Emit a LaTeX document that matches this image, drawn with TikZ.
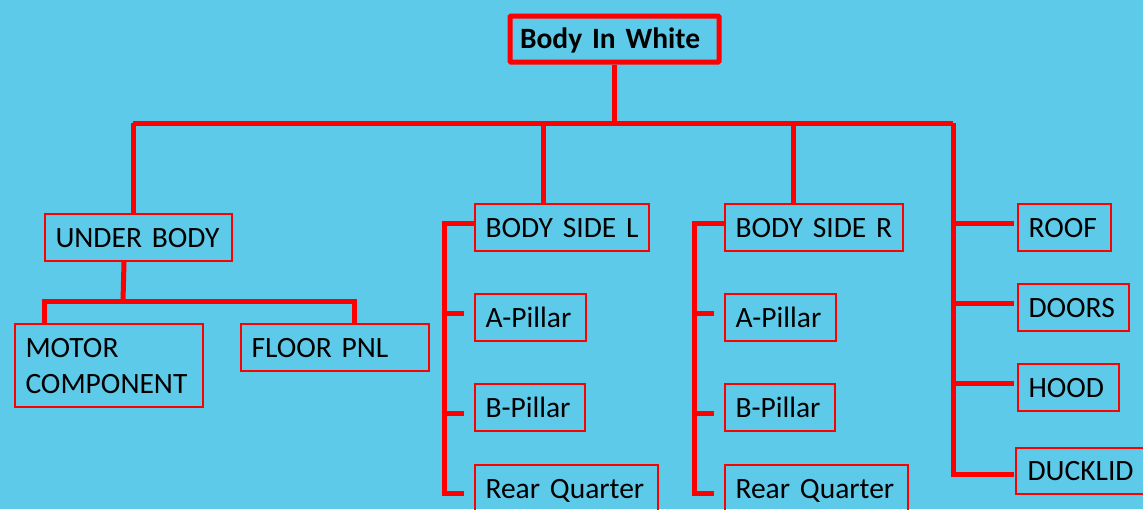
\documentclass[tikz,border=0pt]{standalone}
\usepackage{fontspec}
\setmainfont{Carlito}
\usetikzlibrary{calc}
\definecolor{bgblue}{RGB}{94,202,233}
\newcommand{\boxfont}{\fontsize{29.5}{36}\selectfont\spaceskip=4.5pt\relax}
\tikzset{
  box/.style={draw=red, line width=2pt, anchor=north west, inner xsep=10.5pt, inner ysep=0pt,
    text height=19pt, text depth=0pt, align=left, font=\boxfont},
  conn/.style={draw=red, line width=5pt},
}
\begin{document}
\begin{tikzpicture}[x=1pt,y=-1pt]
\useasboundingbox (0,0) rectangle (1143,509);
\fill[bgblue] (0,0) rectangle (1143,509);
\begin{scope}
\clip (0,0) rectangle (1143,509);
% top
\node[draw=red, line width=5pt, rounded corners=1pt, anchor=north west, inner xsep=10pt, inner ysep=0pt,
  text width=189pt, minimum height=46pt, align=left, text height=19pt, text depth=0pt,
  font=\boxfont\bfseries] (biw) at (507.5,13.5) {\mbox{Body In White}};
% level 1
\node[box, text width=166pt, minimum height=47pt] (ub) at (44,213) {\mbox{UNDER BODY}};
\node[box, text width=153pt, minimum height=47pt] (bsl) at (474,203) {\mbox{BODY SIDE L}};
\node[box, text width=157pt, minimum height=47pt] (bsr) at (724,203) {\mbox{BODY SIDE R}};
\node[box, text width=72pt, minimum height=47pt] (roof) at (1017,203) {\mbox{ROOF}};
\node[box, text width=90pt, minimum height=47pt] (doors) at (1017,283) {\mbox{DOORS}};
\node[box, text width=80pt, minimum height=47pt] (hood) at (1017,363) {\mbox{HOOD}};
\node[box, text width=122pt, minimum height=46pt, inner xsep=11.5pt] (duck) at (1015,447) {\mbox{DUCKLID}};
% under body children
\node[box, text width=167pt, minimum height=83pt, text height=19pt, text depth=36pt] (motor) at (14,323) {\mbox{MOTOR}\\\mbox{COMPONENT}};
\node[box, text width=167pt, minimum height=47pt] (floor) at (240,323) {\mbox{FLOOR PNL}};
% body side L children
\node[box, text width=90pt, minimum height=47pt] (apl) at (474,293) {\mbox{A-Pillar}};
\node[box, text width=89pt, minimum height=47pt] (bpl) at (474,383) {\mbox{B-Pillar}};
\node[box, text width=162pt, minimum height=47pt] (rql) at (474,464) {\mbox{Rear Quarter}};
% body side R children
\node[box, text width=90pt, minimum height=47pt] (apr) at (724,293) {\mbox{A-Pillar}};
\node[box, text width=89pt, minimum height=47pt] (bpr) at (724,383) {\mbox{B-Pillar}};
\node[box, text width=162pt, minimum height=47pt] (rqr) at (724,464) {\mbox{Rear Quarter}};
% bus
\coordinate (bL) at (133,123);
\coordinate (bR) at (953,123);
\coordinate (b1) at (543,123);
\coordinate (b2) at (793,123);
\draw[conn] (biw.south) -- (biw.south |- bL);
\draw[conn] (bL) -- (bR);
\draw[conn] (bL) -- (bL |- ub.north);
\draw[conn] (b1) -- (b1 |- bsl.north);
\draw[conn] (b2) -- (b2 |- bsr.north);
% right spine
\draw[conn] (bR) |- ($(duck.west)+(-1,3)$);
\draw[conn] ($(roof.west)+(-63,-4.5)$) -- ($(roof.west)+(-3,-4.5)$);
\draw[conn] ($(doors.west)+(-63,-4.5)$) -- ($(doors.west)+(-3,-4.5)$);
\draw[conn] ($(hood.west)+(-63,-4.5)$) -- ($(hood.west)+(-3,-4.5)$);
% under body
\coordinate (ubj) at (123,301);
\draw[conn] ($(ub.south)+(-14.5,0)$) -- (ubj);
\draw[conn] ($(motor.north west)+(30,0)$) |- (ubj) -| ($(floor.north west)+(114,0)$);
% body side L
\draw[conn] ($(bsl.west)+(0,-4)$) -| ($(rql.west)+(-30,4.5)$) -- ($(rql.west)+(-10,4.5)$);
\draw[conn] ($(apl.west)+(-30,-4)$) -- ($(apl.west)+(-10,-4)$);
\draw[conn] ($(bpl.west)+(-30,5.5)$) -- ($(bpl.west)+(-10,5.5)$);
% body side R
\draw[conn] ($(bsr.west)+(0,-4)$) -| ($(rqr.west)+(-30,4.5)$) -- ($(rqr.west)+(-10,4.5)$);
\draw[conn] ($(apr.west)+(-30,-4)$) -- ($(apr.west)+(-10,-4)$);
\draw[conn] ($(bpr.west)+(-30,5.5)$) -- ($(bpr.west)+(-10,5.5)$);
\end{scope}
\end{tikzpicture}
\end{document}
